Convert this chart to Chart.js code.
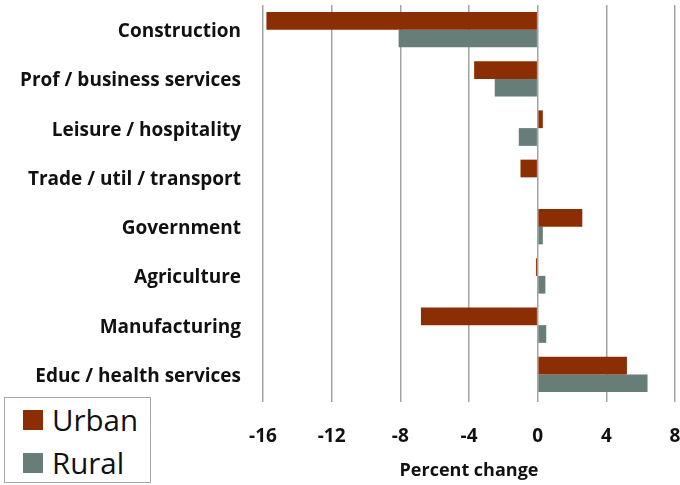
<!DOCTYPE html>
<html>
<head>
<meta charset="utf-8">
<script src="https://cdn.jsdelivr.net/npm/chart.js@4"></script>
<style>
  html, body { margin: 0; padding: 0; background: #fff; }
  #wrap { position: relative; width: 680px; height: 485px; }
  #legend {
    position: absolute; left: 4px; top: 397px; width: 147px; height: 86px;
    border: 1px solid #a8a8a8; box-sizing: border-box; background: #fff;
    font-family: "Open Sans", Lato, sans-serif; font-size: 29.5px; color: #111;
  }
  .item { position: absolute; left: 18px; display: flex; align-items: center; line-height: 1; }
  .sw { width: 20px; height: 20px; margin-right: 9px; }
</style>
</head>
<body>
<div id="wrap">
  <canvas id="c" width="680" height="485"></canvas>
  <div id="legend">
    <div class="item" style="top:7px"><span class="sw" style="background:#8b2e03"></span><span id="l0"></span></div>
    <div class="item" style="top:50px"><span class="sw" style="background:#677d77"></span><span id="l1"></span></div>
  </div>
</div>
<script>
const categories = ["Construction", "Prof / business services", "Leisure / hospitality", "Trade / util / transport", "Government", "Agriculture", "Manufacturing", "Educ / health services"];
const seriesNames = ["Urban", "Rural"];
const urban = [-15.8, -3.7, 0.3, -1.0, 2.6, -0.1, -6.8, 5.2];
const rural = [-8.1, -2.5, -1.1, 0.0, 0.3, 0.45, 0.5, 6.4];
const xTicks = [-16, -12, -8, -4, 0, 4, 8];
const axisTitle = "Percent change";

document.getElementById('l0').textContent = seriesNames[0];
document.getElementById('l1').textContent = seriesNames[1];

const FONT = '"Open Sans", Lato, sans-serif';

new Chart(document.getElementById('c'), {
  type: 'bar',
  data: {
    labels: categories,
    datasets: [
      { label: seriesNames[0], data: urban, backgroundColor: '#8b2e03', categoryPercentage: 0.72, barPercentage: 1 },
      { label: seriesNames[1], data: rural, backgroundColor: '#677d77', categoryPercentage: 0.72, barPercentage: 1 }
    ]
  },
  options: {
    indexAxis: 'y',
    responsive: false,
    animation: false,
    layout: { padding: { top: 5, right: 5, left: 0, bottom: 0 } },
    plugins: { legend: { display: false }, tooltip: { enabled: false } },
    scales: {
      x: {
        min: -16, max: 8,
        afterBuildTicks: (s) => { s.ticks = xTicks.map(v => ({ value: v })); },
        afterFit: (s) => { s.height = 86; s.paddingLeft = 0; s.paddingRight = 0; },
        grid: { color: '#a3a3a3', lineWidth: 1.5, drawTicks: true, tickLength: 3 },
        border: { display: false },
        ticks: { padding: 23, color: '#111', font: { family: FONT, size: 19, weight: 'bold' } },
        title: { display: true, text: axisTitle, color: '#111', padding: { top: 0, bottom: 3 }, font: { family: FONT, size: 18, weight: 'bold' } }
      },
      y: {
        afterFit: (s) => { s.width = 263; s.paddingTop = 0; s.paddingBottom = 0; },
        grid: { display: false, drawTicks: false },
        border: { display: false },
        ticks: { padding: 22, labelOffset: 2, color: '#111', font: { family: FONT, size: 19, weight: 'bold' } }
      }
    }
  }
});
</script>
</body>
</html>
